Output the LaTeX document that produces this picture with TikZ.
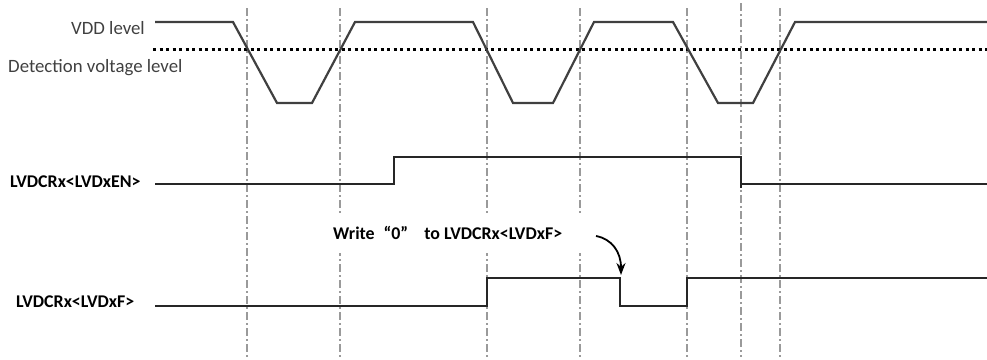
\documentclass[tikz,border=0pt]{standalone}
\usepackage{fontspec}
\setmainfont{Carlito}
\usetikzlibrary{arrows.meta}
\definecolor{ink}{HTML}{404040}
\definecolor{guide}{HTML}{9A9A9A}

\begin{document}
\begin{tikzpicture}[x=1pt, y=-1pt, font=\fontsize{18.8}{22}\selectfont\color{ink},
    guideline/.style={guide, line width=1.6pt, dash pattern=on 8pt off 3pt on 2pt off 3pt},
    vdd/.style={ink, line width=2.2pt, line join=miter},
    signal/.style={black!85, line width=2.6pt, line join=miter},
    lbl/.style={inner sep=0pt, font=\fontsize{17.9}{21}\selectfont\bfseries}]
    \useasboundingbox (0,0) rectangle (987,359);
    \foreach \x/\t in {247/8,340/8,487/8,580/8,687/8,741/3,780/8}
      \draw[guideline] (\x,\t) -- (\x,357);
    \foreach \x in {340,487,580}
      \fill[white] (\x-3,215) rectangle (\x+3,253);
    \draw[black, line width=3pt, dash pattern=on 3pt off 3.5pt] (153,49) -- (987,49);
    \draw[vdd] (155,22) -- (233,22) -- (277,103) -- (312,103) -- (355,22) -- (473,22)
      -- (513,103) -- (553,103) -- (594,22) -- (673,22) -- (718,103) -- (753,103)
      -- (795,22) -- (987,22);
    \draw[signal] (155,184) -- (394,184) -- (394,157) -- (741,157) -- (741,188);
    \draw[signal] (741,184) -- (987,184);
    \draw[signal] (155,306) -- (487,306) -- (487,278) -- (620,278) -- (620,306)
      -- (687,306) -- (687,278) -- (987,278);
    \node[anchor=east, inner sep=0pt] (vddlbl) at (145,28) {VDD level};
    \node[anchor=west, inner sep=0pt] (detlbl) at (8,68) {Detection voltage level};
    \node[lbl, anchor=west] (enlbl) at (10,182) {LVDCRx<LVDxEN>};
    \node[lbl, anchor=west] (flbl) at (16,302) {LVDCRx<LVDxF>};
    \node[lbl, anchor=west] (wr) at (333,233) {Write\hspace{0.5em}“0”\hspace{0.9em}to LVDCRx<LVDxF>};
    \coordinate (fstart) at (596,236);
    \coordinate (fedge) at (621,275);
    \draw[black, line width=1.8pt, -{Stealth[length=12pt, width=9pt]}]
      (fstart) .. controls (612,239) and (621,252) .. (fedge);
\end{tikzpicture}
\end{document}
